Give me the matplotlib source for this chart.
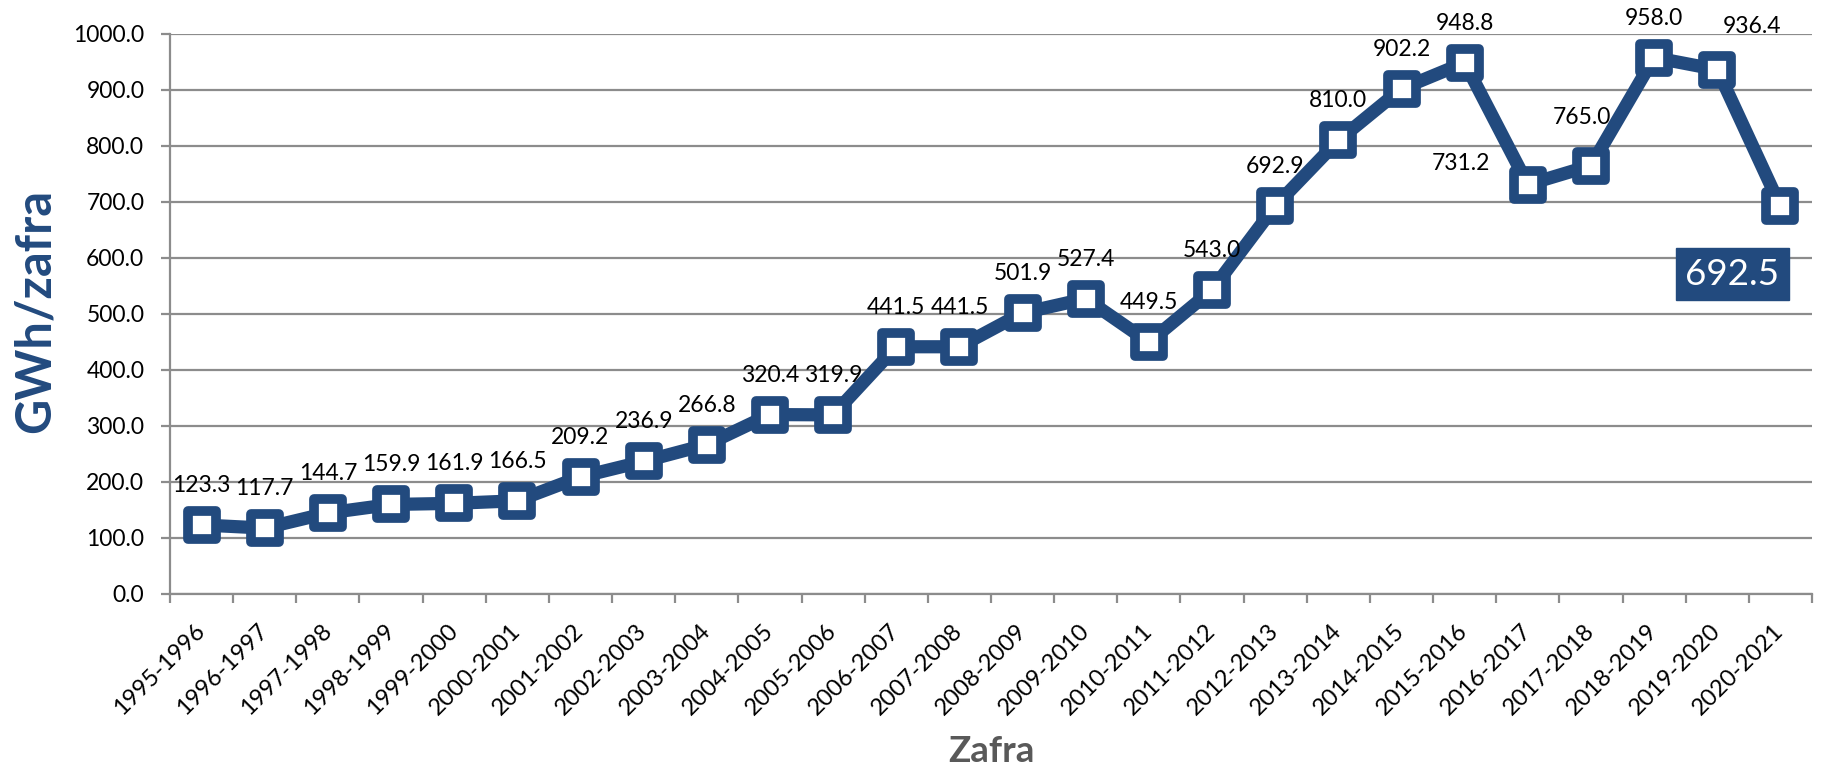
import numpy as np
import matplotlib
matplotlib.use("Agg")
import matplotlib.pyplot as plt
from matplotlib.markers import MarkerStyle

# data: electricity generated per harvest season
zafras = ["1995-1996", "1996-1997", "1997-1998", "1998-1999", "1999-2000",
          "2000-2001", "2001-2002", "2002-2003", "2003-2004", "2004-2005",
          "2005-2006", "2006-2007", "2007-2008", "2008-2009", "2009-2010",
          "2010-2011", "2011-2012", "2012-2013", "2013-2014", "2014-2015",
          "2015-2016", "2016-2017", "2017-2018", "2018-2019", "2019-2020",
          "2020-2021"]
gwh = [123.3, 117.7, 144.7, 159.9, 161.9, 166.5, 209.2, 236.9, 266.8, 320.4,
       319.9, 441.5, 441.5, 501.9, 527.4, 449.5, 543.0, 692.9, 810.0, 902.2,
       948.8, 731.2, 765.0, 958.0, 936.4, 692.5]
y_ticks = np.arange(0, 1001, 100)

blue = "#224A7E"
grid_gray = "#8C8C8C"

plt.rcParams["font.family"] = ["Lato", "DejaVu Sans"]

fig = plt.figure(figsize=(18.22, 7.70), dpi=100)
ax = fig.add_axes([170 / 1822, 176 / 770, 1642 / 1822, 560 / 770])

x = np.arange(len(zafras))
ax.plot(x, gwh, color=blue, linewidth=9.5, solid_joinstyle="round",
        marker=MarkerStyle("s", joinstyle="round"), markersize=20,
        markerfacecolor="white", markeredgecolor=blue, markeredgewidth=7, zorder=3)

# data labels (offsets in pixels from the point), a few are moved like in the original
special = {21: (-67, 15), 22: (-9, 42), 24: (35, 37)}
for i, v in enumerate(gwh):
    if i == len(gwh) - 1:
        ax.annotate(f"{v:.1f}", (x[i], v), xytext=(-48, -68), textcoords="offset pixels",
                    ha="center", va="center", fontsize=26.5, color="white",
                    bbox=dict(boxstyle="square,pad=0.25", fc=blue, ec=blue), zorder=4)
        continue
    dx, dy = special.get(i, (0, 33))
    ax.annotate(f"{v:.1f}", (x[i], v), xytext=(dx, dy), textcoords="offset pixels",
                ha="center", va="baseline", fontsize=16.5, color="black", zorder=4)

ax.set_xlim(-0.5, len(zafras) - 0.5)
ax.set_ylim(0, 1000)
ax.set_yticks(y_ticks)
ax.set_yticklabels([f"{t:.1f}" for t in y_ticks], fontsize=16.5)
ax.yaxis.grid(True, color=grid_gray, linewidth=1.6)
ax.set_axisbelow(True)

# tick marks sit between categories, labels at the categories
ax.set_xticks(np.arange(-0.5, len(zafras), 1))
ax.set_xticklabels([])
ax.set_xticks(x, minor=True)
ax.set_xticklabels(zafras, minor=True, rotation=45, ha="right", va="center",
                   rotation_mode="anchor", fontsize=17)
ax.tick_params(axis="x", which="major", length=6.5, width=1.6, color=grid_gray, direction="out")
ax.tick_params(axis="x", which="minor", length=0, pad=24)
ax.tick_params(axis="y", length=6.5, width=1.6, color=grid_gray, pad=12)

for side in ["top", "right"]:
    ax.spines[side].set_visible(False)
for side in ["left", "bottom"]:
    ax.spines[side].set_color(grid_gray)
    ax.spines[side].set_linewidth(1.6)

fig.text(35 / 1822, 1 - 311 / 770, "GWh/zafra", rotation=90, ha="center", va="center",
         fontsize=35, fontweight="bold", color=blue)
fig.text(991 / 1822, 1 - 752 / 770, "Zafra", ha="center", va="center",
         fontsize=26.5, fontweight="bold", color="#595959")

fig.savefig("out.png", dpi=100)
